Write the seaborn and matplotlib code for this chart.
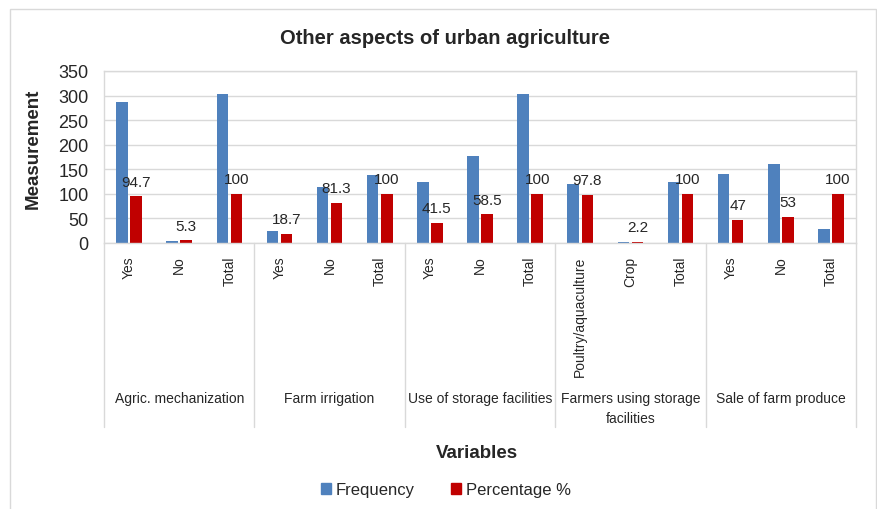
import matplotlib
matplotlib.use("Agg")
import matplotlib.pyplot as plt
import matplotlib.patches as mpatches
import seaborn as sns
import pandas as pd

# ---- data ----
groups = ["Agric. mechanization", "Farm irrigation", "Use of storage facilities",
          "Farmers using storage\nfacilities", "Sale of farm produce"]
tick_labels = ["Yes", "No", "Total",
               "Yes", "No", "Total",
               "Yes", "No", "Total",
               "Poultry/aquaculture", "Crop", "Total",
               "Yes", "No", "Total"]
frequency = [287, 5, 303, 25, 113, 139, 125, 177, 303, 121, 2, 124, 141, 160, 29]
percentage = [94.7, 5.3, 100, 18.7, 81.3, 100, 41.5, 58.5, 100, 97.8, 2.2, 100, 47, 53, 100]
series = ["Frequency", "Percentage %"]
colors = ["#4F81BD", "#C00000"]

keys = [f"c{i}" for i in range(len(tick_labels))]
df = pd.DataFrame({
    "key": keys * 2,
    "value": frequency + percentage,
    "series": [series[0]] * len(keys) + [series[1]] * len(keys),
})

sns.set_style("white")
plt.rcParams["font.family"] = ["Liberation Sans", "DejaVu Sans"]

W, H = 878, 510
fig = plt.figure(figsize=(W / 100, H / 100), dpi=100)
L, R, T, B = 104, 856, 72, 244
ax = fig.add_axes([L / W, 1 - B / H, (R - L) / W, (B - T) / H])

sns.barplot(data=df, x="key", y="value", hue="series", order=keys,
            hue_order=series, palette=colors, width=0.56, gap=0.18,
            ax=ax, legend=False, saturation=1, edgecolor="none")

ax.set_ylim(0, 350)
ax.set_xlim(-0.5, len(keys) - 0.5)
ax.set_yticks(range(0, 351, 50))
ax.yaxis.grid(True, color="#D9D9D9", lw=1)
ax.set_axisbelow(True)
for s in ax.spines.values():
    s.set_color("#D9D9D9")
    s.set_linewidth(1)
ax.set_xlabel("")
ax.set_ylabel("")
ax.set_xticks(range(len(keys)))
ax.set_xticklabels(tick_labels, rotation=90, va="top", ha="center", fontsize=10)
ax.tick_params(axis="x", length=0, pad=9)
ax.tick_params(axis="y", length=0, pad=11, labelsize=13)

# data labels on percentage bars
ax.bar_label(ax.containers[1], fmt="%g", padding=5.5, fontsize=11)

# group separators and labels
ph = B - T
def ay(py):
    return (B - py) / ph
tr = ax.get_xaxis_transform()
for k in range(len(groups) + 1):
    xb = -0.5 + 3 * k
    ax.plot([xb, xb], [0, ay(428)], transform=tr, color="#D9D9D9", lw=1, clip_on=False)
for k, g in enumerate(groups):
    ax.text(3 * k + 1, ay(392), g, transform=tr, ha="center", va="top",
            fontsize=10, linespacing=1.55)

# titles
fig.text(445 / W, 1 - 38 / H, "Other aspects of urban agriculture", ha="center",
         va="center", fontsize=14.5, fontweight="bold")
fig.text(33 / W, 1 - 149 / H, "Measurement", rotation=90, ha="center", va="center",
         fontsize=13.5, fontweight="bold")
fig.text(477 / W, 1 - 454 / H, "Variables", ha="center", va="center",
         fontsize=13.5, fontweight="bold")

handles = [mpatches.Patch(color=c, label=s) for c, s in zip(colors, series)]
fig.legend(handles=handles, loc="center", bbox_to_anchor=(446 / W, 1 - 491 / H),
           ncol=2, frameon=False, fontsize=12, handlelength=0.6, handleheight=0.6,
           handletextpad=0.3, columnspacing=2.2)

# chart frame
fig.patches.append(mpatches.Rectangle((10 / W, -0.05), (876 - 10) / W, 1.05 - 10 / H,
                                      transform=fig.transFigure, fill=False,
                                      edgecolor="#D9D9D9", lw=1))

fig.savefig("out.png", dpi=100)
